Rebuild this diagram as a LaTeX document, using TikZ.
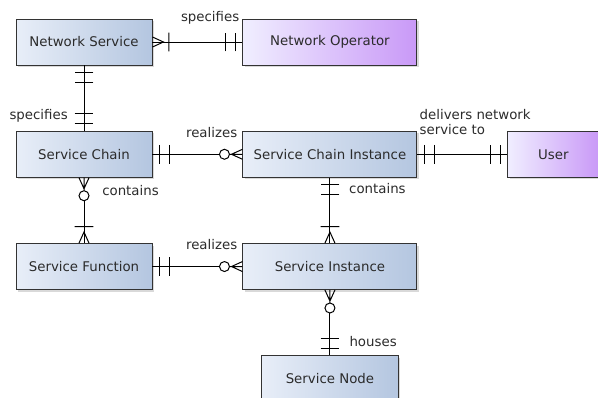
\documentclass[tikz,border=0pt]{standalone}
\usepackage{fontspec}
\setmainfont{DejaVu Sans}
\usetikzlibrary{positioning,shadows}

\definecolor{entlight}{HTML}{E8EEF8}
\definecolor{entdark}{HTML}{B4C6E0}
\definecolor{actlight}{HTML}{F0EEFF}
\definecolor{actdark}{HTML}{C999F7}
\definecolor{txt}{HTML}{2B2B2B}

% crow's foot ends
\pgfdeclarearrow{
	name = oneone,
	parameters = {\the\pgflinewidth},
	setup code = {
		\pgfarrowssettipend{0pt}
		\pgfarrowssetlineend{0pt}
		\pgfarrowssetbackend{-13.5pt}
		\pgfarrowsupperhullpoint{-13.5pt}{7pt}
		\pgfarrowsupperhullpoint{0pt}{7pt}
	},
	drawing code = {
		\pgfpathmoveto{\pgfpoint{-5.25pt}{-7pt}}
		\pgfpathlineto{\pgfpoint{-5.25pt}{7pt}}
		\pgfpathmoveto{\pgfpoint{-12.75pt}{-7pt}}
		\pgfpathlineto{\pgfpoint{-12.75pt}{7pt}}
		\pgfusepathqstroke
	}
}
\pgfdeclarearrow{
	name = onemany,
	parameters = {\the\pgflinewidth},
	setup code = {
		\pgfarrowssettipend{0pt}
		\pgfarrowssetlineend{0pt}
		\pgfarrowssetbackend{-13pt}
		\pgfarrowsupperhullpoint{-13pt}{7pt}
		\pgfarrowsupperhullpoint{0pt}{7pt}
	},
	drawing code = {
		\pgfpathmoveto{\pgfpoint{-12.25pt}{-7pt}}
		\pgfpathlineto{\pgfpoint{-12.25pt}{7pt}}
		\pgfpathmoveto{\pgfpoint{0pt}{3.75pt}}
		\pgfpathlineto{\pgfpoint{-8.25pt}{0pt}}
		\pgfpathlineto{\pgfpoint{0pt}{-3.75pt}}
		\pgfusepathqstroke
	}
}
\pgfdeclarearrow{
	name = zeromany,
	parameters = {\the\pgflinewidth},
	setup code = {
		\pgfarrowssettipend{0pt}
		\pgfarrowssetlineend{-17.25pt}
		\pgfarrowssetbackend{-17.25pt}
		\pgfarrowsupperhullpoint{-17.25pt}{4pt}
		\pgfarrowsupperhullpoint{0pt}{4pt}
	},
	drawing code = {
		\pgfpathcircle{\pgfpoint{-13.5pt}{0pt}}{3.75pt}
		\pgfpathmoveto{\pgfpoint{-9.75pt}{0pt}}
		\pgfpathlineto{\pgfpoint{0pt}{0pt}}
		\pgfpathmoveto{\pgfpoint{0pt}{3.75pt}}
		\pgfpathlineto{\pgfpoint{-8.25pt}{0pt}}
		\pgfpathlineto{\pgfpoint{0pt}{-3.75pt}}
		\pgfusepathqstroke
	}
}

\begin{document}
\begin{tikzpicture}[
		font=\fontsize{10}{11.5}\selectfont,
		entity/.style={draw=black!80,line width=0.7pt,rectangle,minimum width=102pt,minimum height=34.5pt,
			left color=entlight,right color=entdark,text=txt,
			drop shadow={shadow xshift=1.5pt,shadow yshift=-1.5pt,opacity=0.3}},
		actor/.style={entity,left color=actlight,right color=actdark},
		lbl/.style={inner sep=0pt,text=txt}]
		\useasboundingbox (0,0) rectangle (448.5pt,-297.75pt);

		\node[entity] (ns) at (63pt,-31.5pt) {Network Service};
		\node[actor,minimum width=130.5pt,right=67.5pt of ns] (no) {Network Operator};
		\node[entity,below=49pt of ns] (sc) {Service Chain};
		\node[entity,minimum width=130.5pt,right=67.5pt of sc] (sci) {Service Chain Instance};
		\node[actor,minimum width=68.25pt,right=67.5pt of sci] (user) {User};
		\node[entity,below=49pt of sc] (sf) {Service Function};
		\node[entity,minimum width=130.5pt,right=67.5pt of sf] (si) {Service Instance};
		\node[entity,minimum width=102.75pt,below=49pt of si] (sn) {Service Node};

		\node[lbl,anchor=base east] (specifies1) at ([xshift=-2.25pt,yshift=-2.25pt]no.north west) {specifies};
		\node[lbl,anchor=base east] (specifies2) at ([xshift=-12pt,yshift=8.25pt]sc.north) {specifies};
		\node[lbl,anchor=base east] (realizes1) at ([xshift=-3.75pt,yshift=-5.25pt]sci.north west) {realizes};
		\node[lbl,anchor=south west,align=left] (delivers) at ([xshift=1.5pt,yshift=-3pt]sci.north east) {delivers network\\service to};
		\node[lbl,anchor=base west] (contains1) at ([xshift=13.5pt,yshift=-13.5pt]sc.south) {contains};
		\node[lbl,anchor=base west] (contains2) at ([xshift=14.25pt,yshift=-12pt]sci.south) {contains};
		\node[lbl,anchor=base east] (realizes2) at ([xshift=-3.75pt,yshift=-4.5pt]si.north west) {realizes};
		\node[lbl,anchor=base west] (houses) at ([xshift=14.5pt,yshift=6.75pt]sn.north) {houses};

		\path[line width=0.75pt]
			(ns)
				edge[onemany-oneone] (no)
				edge[oneone-oneone] (sc)
			(sc)
				edge[oneone-zeromany] (sci)
				edge[zeromany-onemany] (sf)
			(sci)
				edge[oneone-oneone] (user)
				edge[oneone-onemany] (si)
			(sf) edge[oneone-zeromany] (si)
			(si) edge[zeromany-oneone] (sn)
			;
	\end{tikzpicture}
\end{document}
